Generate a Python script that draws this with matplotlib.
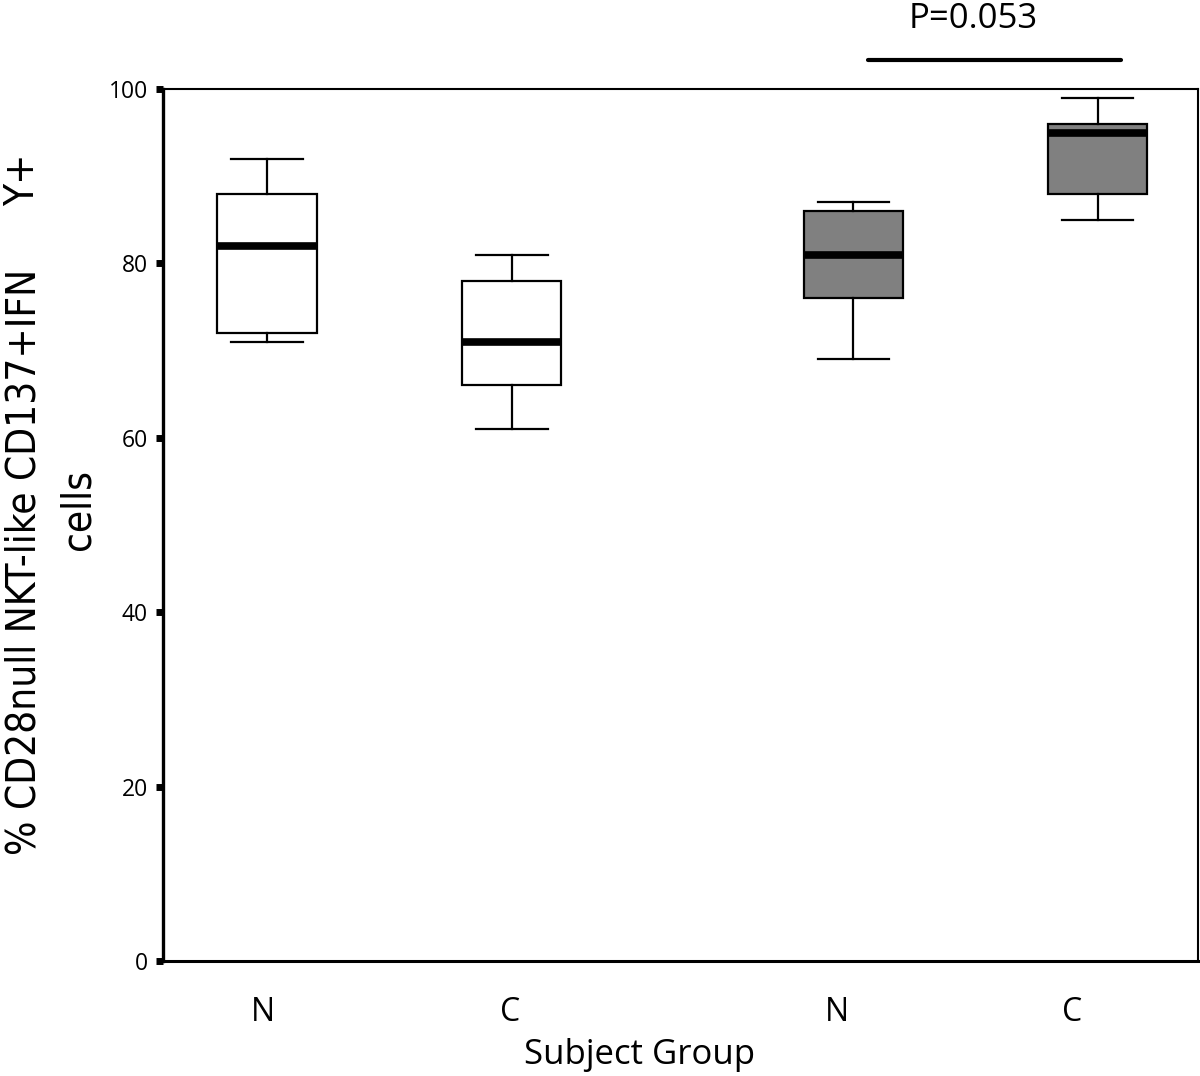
import matplotlib
matplotlib.use("Agg")
import matplotlib.pyplot as plt

# ---- data ----
groups = ["N", "C", "N", "C"]
whislo = [71, 61, 69, 85]
q1 = [72, 66, 76, 88]
med = [82, 71, 81, 95]
q3 = [88, 78, 86, 96]
whishi = [92, 81, 87, 99]
fills = ["white", "white", "#808080", "#808080"]
p_text = "P=0.053"
yticks = [0, 20, 40, 60, 80, 100]

# ---- layout ----
box_pos = [1.005, 3.37, 6.67, 9.03]
label_pos = [0.97, 3.35, 6.51, 8.78]

fig = plt.figure(figsize=(12, 10.76), dpi=100)
ax = fig.add_axes([163/1200, 115/1076, (1198-163)/1200, (961-89)/1076])

stats = []
for i in range(len(groups)):
    stats.append(dict(whislo=whislo[i], q1=q1[i], med=med[i], q3=q3[i],
                      whishi=whishi[i], fliers=[], label=groups[i]))

bp = ax.bxp(stats, positions=box_pos, widths=0.96, capwidths=0.69,
            showfliers=False, patch_artist=True,
            boxprops=dict(linewidth=1.6, edgecolor="black"),
            whiskerprops=dict(linewidth=1.6, color="black"),
            capprops=dict(linewidth=1.6, color="black"),
            medianprops=dict(linewidth=5.5, color="black", solid_capstyle="butt"))
for patch, c in zip(bp["boxes"], fills):
    patch.set_facecolor(c)

txt_font = ["Open Sans", "DejaVu Sans"]
ax.set_xlim(0, 10)
ax.set_ylim(0, 100)
ax.set_xticks(label_pos)
ax.set_xticklabels(groups, fontsize=23, family=txt_font)
ax.tick_params(axis="x", length=0, pad=25)
ax.set_yticks(yticks)
ax.set_yticklabels([str(t) for t in yticks], fontsize=16.5, family=txt_font)
ax.tick_params(axis="y", length=5, width=5, direction="out", pad=6)

ax.spines["left"].set_linewidth(2.4)
ax.spines["bottom"].set_linewidth(2.2)
ax.spines["top"].set_linewidth(1.5)
ax.spines["right"].set_linewidth(1.5)

ax.set_xlabel("Subject Group", fontsize=25, family=txt_font)
ax.xaxis.set_label_coords((640-163)/1035, -0.088)

# significance bar
ax.plot([6.81, 9.26], [103.3, 103.3], color="black", linewidth=3, clip_on=False,
        solid_capstyle="round")
ax.text(7.83, 108.0, p_text, ha="center", va="center", fontsize=25,
        family=txt_font, clip_on=False)

# y label (multi-part, as in the original)
yl_kw = dict(rotation=90, ha="center", va="center", fontsize=29,
             family="DejaVu Sans", fontstretch="condensed")
fig.text(25/1200, 1 - 562/1076, "% CD28null NKT-like CD137+IFN", **yl_kw)
fig.text(23/1200, 1 - 180/1076, "Y+", **yl_kw)
fig.text(79/1200, 1 - 510/1076, "cells", **yl_kw)

fig.savefig("out.png", dpi=100)
